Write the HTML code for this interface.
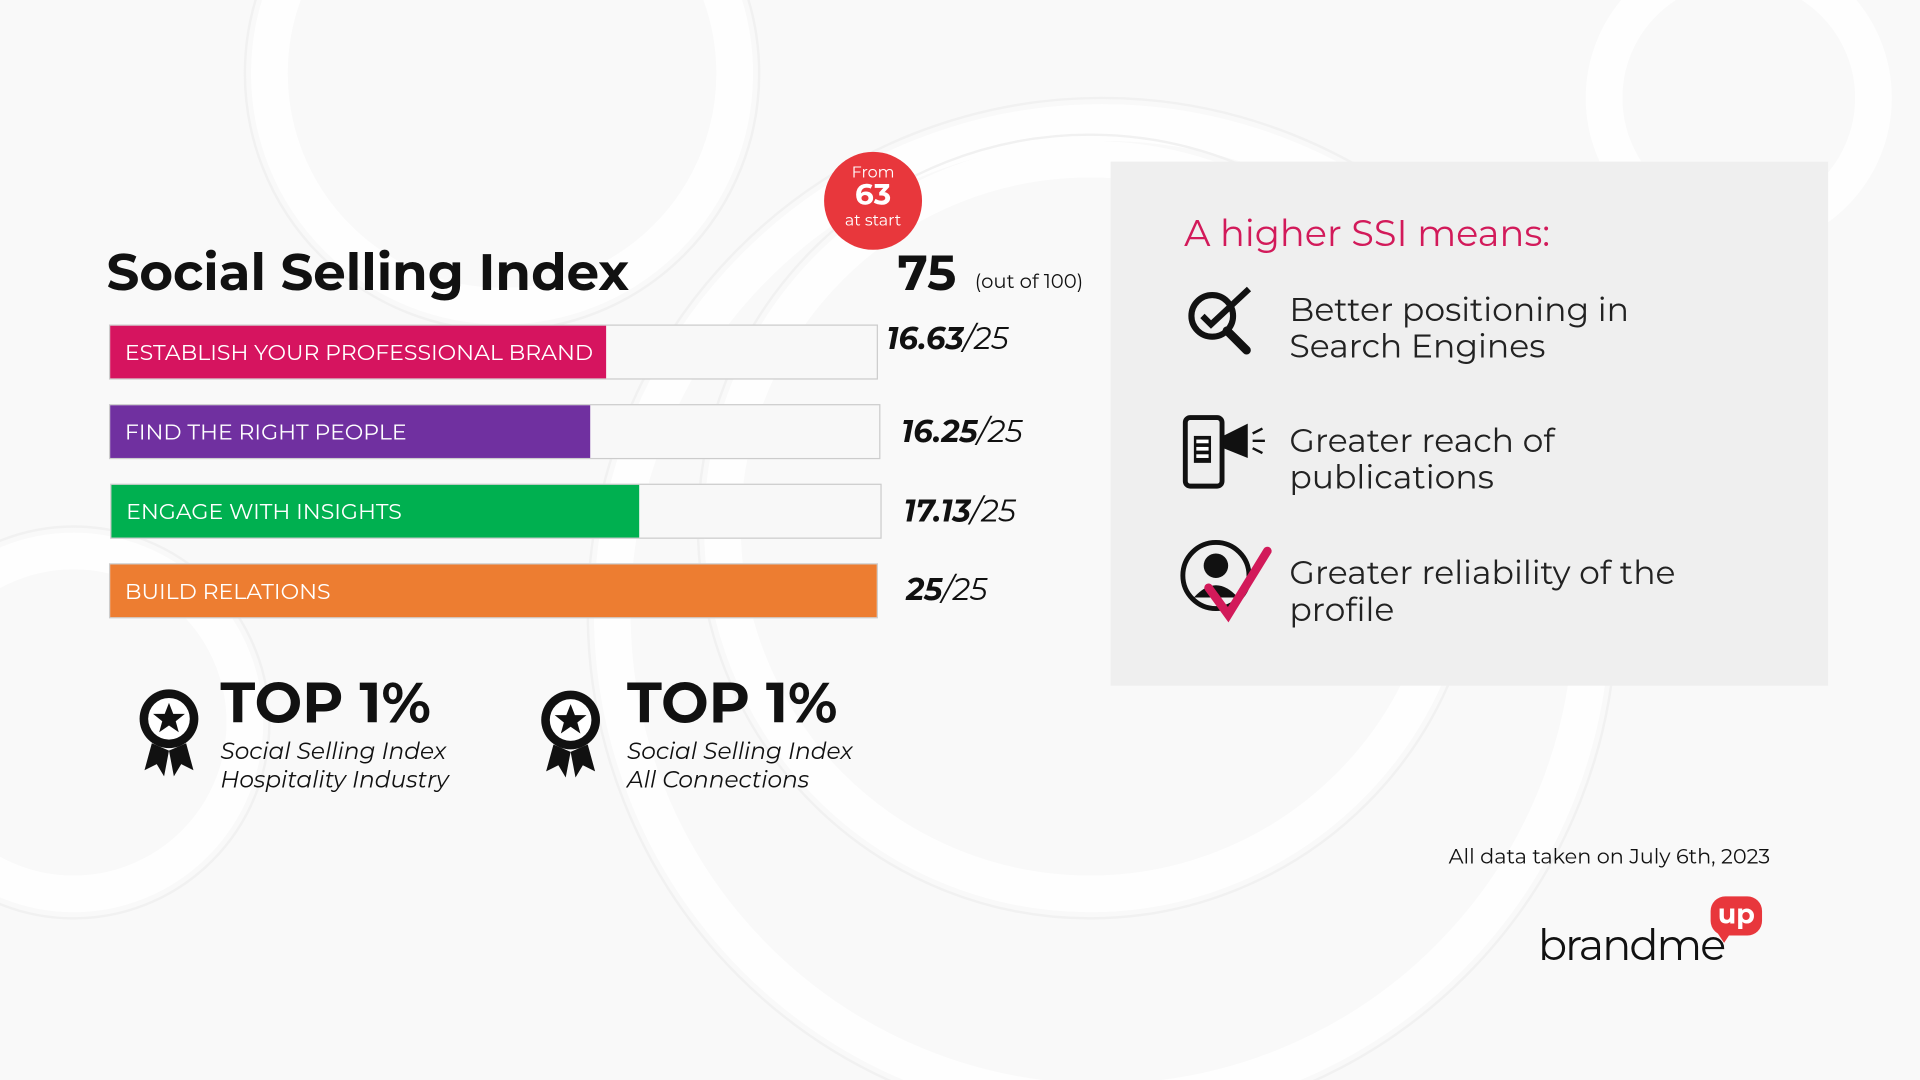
<!DOCTYPE html>
<html><head><meta charset="utf-8"><style>
html,body{margin:0;padding:0;width:1920px;height:1080px;overflow:hidden;background:#f9f9f9}
#w{position:absolute;left:0;top:0;width:1568px;height:882px;transform:scale(1.22449);transform-origin:0 0;font-family:"Montserrat","Liberation Sans",sans-serif;color:#111}
.a{position:absolute}
.bar{position:absolute;left:89px;width:628px;height:45px;background:#f8f8f8;border:1px solid #ccc;box-sizing:border-box}
.fill{position:absolute;left:0;top:0;bottom:0;color:#fff;font-size:18px;line-height:45px;padding-left:12px;box-sizing:border-box;white-space:nowrap}
.sc{position:absolute;font-style:italic;font-size:25px}
.sc b{font-weight:bold}
.it{font-size:27px;line-height:30px;color:#222}
</style></head><body><div id="w">
<svg class="a" style="left:0;top:0" width="1568" height="882">
<g fill="none" stroke="#fff" stroke-width="30" opacity="0.8">
<circle cx="410" cy="60" r="190"/><circle cx="890" cy="430" r="300"/>
<circle cx="60" cy="590" r="140"/><circle cx="1420" cy="80" r="110"/><circle cx="900" cy="500" r="400"/>
</g>
<g fill="none" stroke="#f1f1f1" stroke-width="2">
<circle cx="410" cy="60" r="210"/><circle cx="890" cy="430" r="320"/><circle cx="60" cy="590" r="160"/><circle cx="900" cy="500" r="420"/>
</g></svg>
<div class="a" style="left:87px;top:196px;font-size:42px;font-weight:bold">Social Selling Index</div>
<div class="a" style="left:673px;top:124px;width:80px;height:80px;border-radius:50%;background:#e8373c;color:#fff;text-align:center">
<div style="font-size:13px;margin-top:10px;line-height:14px">From</div>
<div style="font-size:24px;font-weight:bold;line-height:24px">63</div>
<div style="font-size:13px;line-height:16px">at start</div></div>
<div class="a" style="left:733px;top:199px;font-size:40px;font-weight:bold">75</div>
<div class="a" style="left:796px;top:221px;font-size:16px">(out of 100)</div>

<div class="bar" style="top:265px"><div class="fill" style="width:405px;background:#d6145f">ESTABLISH YOUR PROFESSIONAL BRAND</div></div>
<div class="bar" style="top:330px;left:89px;width:630px"><div class="fill" style="width:392px;background:#7030a0">FIND THE RIGHT PEOPLE</div></div>
<div class="bar" style="top:395px;left:90px;width:630px"><div class="fill" style="width:431px;background:#00b050">ENGAGE WITH INSIGHTS</div></div>
<div class="bar" style="top:460px"><div class="fill" style="width:100%;background:#ed7d31">BUILD RELATIONS</div></div>

<div class="sc" style="left:724px;top:262px"><b>16.63</b>/25</div>
<div class="sc" style="left:736px;top:338px"><b>16.25</b>/25</div>
<div class="sc" style="left:738px;top:403px"><b>17.13</b>/25</div>
<div class="sc" style="left:740px;top:467px"><b>25</b>/25</div>

<svg class="a" style="left:110px;top:557px" width="60" height="82"><circle cx="28" cy="30" r="24" fill="#111"/><circle cx="28" cy="30" r="17" fill="#fff"/><polygon points="28,17 31.5,26 41,26 33.5,32 36,41 28,35.5 20,41 22.5,32 15,26 24.5,26" fill="#111"/><polygon points="14,50 8,72 18,67 24,77 28,56" fill="#111"/><polygon points="42,50 48,72 38,67 32,77 28,56" fill="#111"/></svg>
<div class="a" style="left:180px;top:545px;font-size:46px;font-weight:bold">TOP 1%</div>
<div class="a" style="left:180px;top:602px;font-size:19px;font-style:italic;line-height:23px">Social Selling Index<br>Hospitality Industry</div>
<svg class="a" style="left:438px;top:558px" width="60" height="82"><circle cx="28" cy="30" r="24" fill="#111"/><circle cx="28" cy="30" r="17" fill="#fff"/><polygon points="28,17 31.5,26 41,26 33.5,32 36,41 28,35.5 20,41 22.5,32 15,26 24.5,26" fill="#111"/><polygon points="14,50 8,72 18,67 24,77 28,56" fill="#111"/><polygon points="42,50 48,72 38,67 32,77 28,56" fill="#111"/></svg>
<div class="a" style="left:512px;top:545px;font-size:46px;font-weight:bold">TOP 1%</div>
<div class="a" style="left:512px;top:602px;font-size:19px;font-style:italic;line-height:23px">Social Selling Index<br>All Connections</div>

<div class="a" style="left:907px;top:132px;width:586px;height:428px;background:#efefef"></div>
<div class="a" style="left:967px;top:172px;font-size:30px;color:#d21a5a">A higher SSI means:</div>
<svg class="a" style="left:966px;top:232px" width="60" height="60"><circle cx="24" cy="26" r="17" fill="none" stroke="#111" stroke-width="5"/><path d="M36 38 L52 54" stroke="#111" stroke-width="7" stroke-linecap="round"/><path d="M16 26 L23 33 L54 4" fill="none" stroke="#111" stroke-width="5"/></svg>
<div class="a it" style="left:1053px;top:238px">Better positioning in<br>Search Engines</div>
<svg class="a" style="left:965px;top:338px" width="72" height="62"><rect x="3" y="3" width="30" height="56" rx="4" fill="none" stroke="#111" stroke-width="4"/><rect x="10" y="18" width="14" height="22" fill="#111"/><rect x="12" y="21" width="10" height="3" fill="#fff"/><rect x="12" y="27" width="10" height="3" fill="#fff"/><rect x="12" y="33" width="10" height="3" fill="#fff"/><polygon points="34,18 54,8 54,36 34,28" fill="#111"/><path d="M58 16 L66 12 M58 22 L68 22 M58 28 L66 32" stroke="#111" stroke-width="2"/></svg>
<div class="a it" style="left:1053px;top:345px">Greater reach of<br>publications</div>
<svg class="a" style="left:963px;top:440px" width="76" height="70"><circle cx="30" cy="30" r="27" fill="none" stroke="#111" stroke-width="4"/><circle cx="30" cy="22" r="10" fill="#111"/><path d="M12 48 Q30 28 48 48 Z" fill="#111"/><path d="M24 40 L40 62 L72 10" fill="none" stroke="#d21a5a" stroke-width="7" stroke-linecap="round"/></svg>
<div class="a it" style="left:1053px;top:453px">Greater reliability of the<br>profile</div>

<div class="a" style="left:1183px;top:690px;font-size:17px">All data taken on July 6th, 2023</div>
<div class="a" style="left:1256px;top:750px;font-size:35px;letter-spacing:-1.5px">brandme</div>
<div class="a" style="left:1397px;top:732px;width:42px;height:32px;border-radius:12px;background:#e8373c;color:#fff;font-size:22px;font-weight:bold;text-align:center;line-height:30px">up</div>
<div class="a" style="left:1400px;top:758px;width:0;height:0;border-left:8px solid transparent;border-right:8px solid transparent;border-top:12px solid #e8373c"></div>
</div></body></html>
